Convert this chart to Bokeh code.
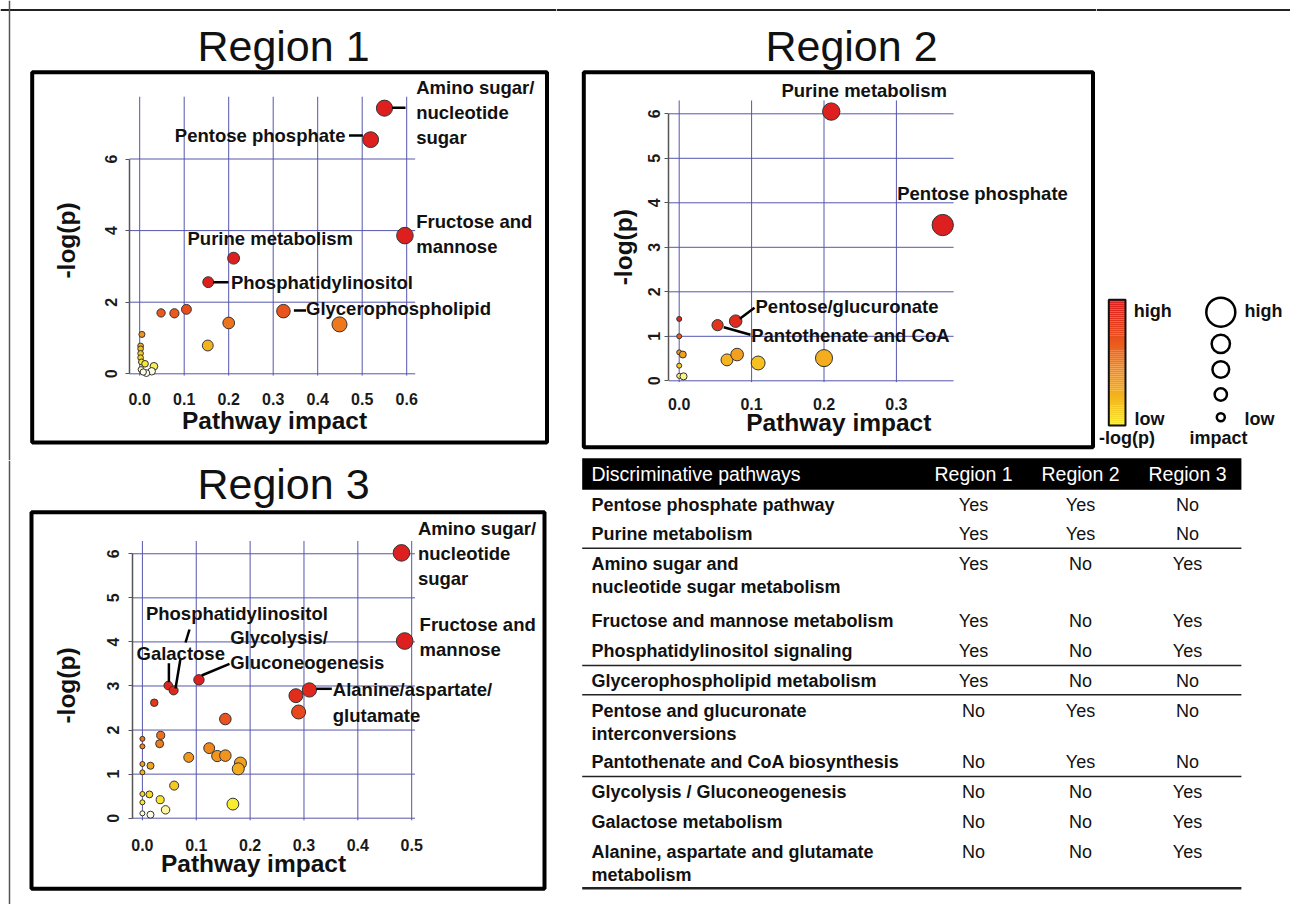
import numpy as np
from bokeh.plotting import figure
from bokeh.models import (Range1d, FixedTicker, LinearColorMapper, ColumnDataSource,
                          PrintfTickFormatter, LinearAxis)
from bokeh.layouts import row, column
from bokeh.core.properties import value
from bokeh.transform import transform
from bokeh.embed import file_html
from bokeh.resources import INLINE

FONT = "Liberation Sans"

# ---------------- data ----------------
# Region 1
r1_impact = [0.550, 0.519, 0.596, 0.211, 0.154, 0.323, 0.449, 0.200, 0.153, 0.105, 0.078, 0.048,
             0.005, 0.002, 0.002, 0.002, 0.002, 0.004, 0.012, 0.032, 0.027, 0.015, 0.003, 0.008]
r1_logp = [7.42, 6.54, 3.86, 3.23, 2.56, 1.75, 1.38, 1.42, 0.79, 1.80, 1.69, 1.70,
           1.10, 0.78, 0.70, 0.57, 0.45, 0.33, 0.28, 0.21, 0.07, 0.02, 0.12, 0.05]
r1_xticks = [0.0, 0.1, 0.2, 0.3, 0.4, 0.5, 0.6]
r1_yticks = [0, 2, 4, 6]

# Region 2
r2_impact = [0.210, 0.364, 0.078, 0.053, 0.000, 0.000, 0.000, 0.005, 0.000, 0.000, 0.006,
             0.066, 0.080, 0.109, 0.200]
r2_logp = [6.05, 3.50, 1.34, 1.25, 1.39, 1.00, 0.64, 0.59, 0.34, 0.11, 0.10,
           0.47, 0.59, 0.40, 0.51]
r2_xticks = [0.0, 0.1, 0.2, 0.3]
r2_yticks = [0, 1, 2, 3, 4, 5, 6]

# Region 3
r3_impact = [0.481, 0.487, 0.105, 0.048, 0.058, 0.310, 0.285, 0.290, 0.154, 0.022, 0.034, 0.032,
             0.000, 0.000, 0.124, 0.139, 0.154, 0.086, 0.182, 0.178, 0.000, 0.015, 0.000, 0.059,
             0.000, 0.013, 0.000, 0.033, 0.043, 0.168, 0.000, 0.015]
r3_logp = [6.02, 4.02, 3.14, 3.01, 2.90, 2.91, 2.78, 2.41, 2.25, 2.62, 1.88, 1.69,
           1.80, 1.63, 1.59, 1.41, 1.42, 1.38, 1.25, 1.12, 1.23, 1.19, 1.04, 0.74,
           0.55, 0.54, 0.36, 0.42, 0.19, 0.32, 0.11, 0.08]
r3_xticks = [0.0, 0.1, 0.2, 0.3, 0.4, 0.5]
r3_yticks = [0, 1, 2, 3, 4, 5, 6]

# Table
table_header = ["Discriminative pathways", "Region 1", "Region 2", "Region 3"]
table_pathways = ["Pentose phosphate pathway", "Purine metabolism",
                  "Amino sugar and\nnucleotide sugar metabolism",
                  "Fructose and mannose metabolism", "Phosphatidylinositol signaling",
                  "Glycerophospholipid metabolism",
                  "Pentose and glucuronate\ninterconversions",
                  "Pantothenate and CoA biosynthesis", "Glycolysis / Gluconeogenesis",
                  "Galactose metabolism", "Alanine, aspartate and glutamate\nmetabolism"]
table_r1 = ["Yes", "Yes", "Yes", "Yes", "Yes", "Yes", "No", "No", "No", "No", "No"]
table_r2 = ["Yes", "Yes", "No", "No", "No", "No", "Yes", "Yes", "No", "No", "No"]
table_r3 = ["No", "No", "Yes", "Yes", "Yes", "No", "No", "No", "Yes", "Yes", "Yes"]

# ---------------- colours ----------------
STOPS = [(0.0, "#ffffff"), (0.04, "#fffbd0"), (0.10, "#f8ec30"), (0.30, "#f5b91e"),
         (0.50, "#f08a1e"), (0.70, "#ea5a1e"), (0.88, "#e2301c"), (1.0, "#de1f1f")]


def _rgb(h):
    return [int(h[i:i + 2], 16) for i in (1, 3, 5)]


def build_palette(n=256, lo=0.0, hi=1.0):
    sp = [s[0] for s in STOPS]
    cols = np.array([_rgb(s[1]) for s in STOPS], dtype=float)
    out = []
    for t in np.linspace(lo, hi, n):
        r, g, b = (int(round(np.interp(t, sp, cols[:, k]))) for k in range(3))
        out.append("#%02x%02x%02x" % (r, g, b))
    return out


PALETTE = build_palette()
GRID_COLOR = "#5656ad"
AXIS_COLOR = "#555555"
LABEL_SIZE = "18.5px"


def frame_fig(W, H, xr, yr):
    p = figure(width=W, height=H, x_range=xr, y_range=yr, x_axis_type=None, y_axis_type=None,
               toolbar_location=None, output_backend="svg", min_border=0,
               outline_line_color=None, background_fill_color="white",
               border_fill_color="white")
    p.grid.visible = False
    return p


def region_plot(cfg):
    L, T, R, B = cfg["page"]
    x0px, xs, y0px, ys = cfg["map"]
    X = lambda px: (px - x0px) / xs
    Y = lambda py: (y0px - py) / ys
    p = frame_fig(R - L, B - T, Range1d(X(L), X(R)), Range1d(Y(B), Y(T)))

    xt, yt = cfg["xticks"], cfg["yticks"]
    ax_x = X(cfg["yaxis_px"])
    # grid lines
    p.segment(x0=xt, y0=[cfg["grid_ybot"]] * len(xt), x1=xt, y1=[cfg["grid_ytop"]] * len(xt),
              line_color=GRID_COLOR, line_width=1)
    p.segment(x0=[ax_x] * len(yt), y0=yt, x1=[cfg["grid_xmax"]] * len(yt), y1=yt,
              line_color=GRID_COLOR, line_width=1)

    # axes
    xa = LinearAxis(ticker=FixedTicker(ticks=xt), formatter=PrintfTickFormatter(format="%.1f"),
                    fixed_location=0)
    xa.axis_line_color = None
    xa.major_tick_line_color = None
    xa.minor_tick_line_color = None
    xa.major_label_standoff = cfg["xstandoff"]
    xa.major_label_text_font = FONT
    xa.major_label_text_font_style = "bold"
    xa.major_label_text_font_size = "16px"
    xa.major_label_text_color = "#1a1a1a"
    p.add_layout(xa, "below")

    ya = LinearAxis(ticker=FixedTicker(ticks=yt), formatter=PrintfTickFormatter(format="%d"),
                    fixed_location=ax_x, bounds=(yt[0], yt[-1]))
    ya.axis_line_color = AXIS_COLOR
    ya.axis_line_width = 1.5
    ya.major_tick_line_color = AXIS_COLOR
    ya.major_tick_out = 4
    ya.major_tick_in = 0
    ya.minor_tick_line_color = None
    ya.major_label_orientation = "vertical"
    ya.major_label_standoff = cfg["ystandoff"]
    ya.major_label_text_font = FONT
    ya.major_label_text_font_style = "bold"
    ya.major_label_text_font_size = "16px"
    ya.major_label_text_color = "#1a1a1a"
    p.add_layout(ya, "left")

    # points
    imp = np.array(cfg["impact"], dtype=float)
    src = ColumnDataSource(dict(impact=imp, logp=cfg["logp"],
                                size=5 + cfg["size_k"] * np.sqrt(imp)))
    mapper = LinearColorMapper(palette=PALETTE, low=0, high=cfg["cmap_high"])
    p.scatter("impact", "logp", size="size", source=src, fill_color=transform("logp", mapper),
              line_color="#333333", line_width=1)

    # leader lines
    for (a, b, c, d) in cfg["leaders"]:
        p.segment(x0=[X(a)], y0=[Y(b)], x1=[X(c)], y1=[Y(d)], line_color="black", line_width=2.5)
    # annotation labels
    for (txt, a, b, al) in cfg["labels"]:
        p.text(x=[X(a)], y=[Y(b)], text=[txt], text_font=value(FONT), text_font_style="bold",
               text_font_size=LABEL_SIZE, text_align=al, text_baseline="middle",
               text_line_height=1.2, text_color="#111111")
    # axis titles
    ax1, ay1 = cfg["xtitle"]
    p.text(x=[X(ax1)], y=[Y(ay1)], text=["Pathway impact"], text_font=value(FONT),
           text_font_style="bold", text_font_size="24.5px", text_align="center",
           text_baseline="middle", text_color="#111111")
    ax2, ay2 = cfg["ytitle"]
    p.text(x=[X(ax2)], y=[Y(ay2)], text=["-log(p)"], text_font=value(FONT),
           text_font_style="bold", text_font_size="24.5px", text_align="center",
           text_baseline="middle", angle=np.pi / 2, text_color="#111111")
    # box
    bl, bt, br, bb = cfg["box"]
    p.quad(left=[X(bl)], right=[X(br)], top=[Y(bt)], bottom=[Y(bb)], fill_color=None,
           line_color="black", line_width=4)
    # title
    tx, ty = cfg["title_pos"]
    p.text(x=[X(tx)], y=[Y(ty)], text=[cfg["title"]], text_font=value(FONT),
           text_font_size="43px", text_align="center", text_baseline="middle",
           text_color="#111111")
    # outer page border
    if cfg.get("top_border"):
        p.segment(x0=[X(L)], y0=[Y(9.5)], x1=[X(R)], y1=[Y(9.5)], line_color="#222222",
                  line_width=2)
    if cfg.get("left_border"):
        p.segment(x0=[X(9)], y0=[Y(T)], x1=[X(9)], y1=[Y(B)], line_color="#555555",
                  line_width=1.5)
    return p


SPLIT = 1096  # page x where the legend panel starts

cfg1 = dict(page=(0, 0, 556, 460), map=(139.2, 445.0, 373.3, 35.8),
            impact=r1_impact, logp=r1_logp, xticks=r1_xticks, yticks=r1_yticks,
            yaxis_px=128.8, grid_ybot=-0.05, grid_ytop=7.74, grid_xmax=0.619,
            xstandoff=13, ystandoff=8, size_k=15.0, cmap_high=2.4,
            leaders=[(391.6, 107.3, 405, 107.3), (348.5, 135, 362.3, 135),
                     (212.5, 281.7, 228, 281.7), (293.4, 310, 305.5, 310)],
            labels=[("Amino sugar/\nnucleotide\nsugar", 415.7, 111.7, "left"),
                    ("Pentose phosphate", 345, 135, "right"),
                    ("Fructose and\nmannose", 415.7, 233.5, "left"),
                    ("Purine metabolism", 187, 237.7, "left"),
                    ("Phosphatidylinositol", 230.4, 281.7, "left"),
                    ("Glycerophospholipid", 305.5, 308.3, "left")],
            xtitle=(274, 420), ytitle=(66, 240), box=(31.7, 71.7, 546.5, 442),
            title="Region 1", title_pos=(283, 45), top_border=True, left_border=True)

cfg2 = dict(page=(556, 0, SPLIT, 452), map=(678.7, 724.0, 380.3, 44.5),
            impact=r2_impact, logp=r2_logp, xticks=r2_xticks, yticks=r2_yticks,
            yaxis_px=668.3, grid_ybot=-0.03, grid_ytop=6.3, grid_xmax=0.379,
            xstandoff=11, ystandoff=5, size_k=27.0, cmap_high=1.45,
            leaders=[(739.3, 318.3, 754, 307.3), (723.3, 326.7, 750, 334.3)],
            labels=[("Purine metabolism", 863.7, 90, "center"),
                    ("Pentose phosphate", 896.7, 193.3, "left"),
                    ("Pentose/glucuronate", 755, 306, "left"),
                    ("Pantothenate and CoA", 750.7, 335, "left")],
            xtitle=(838.3, 421.7), ytitle=(623.3, 246.7), box=(583.3, 71.7, 1092.5, 446.7),
            title="Region 2", title_pos=(851, 45), top_border=True)

cfg3 = dict(page=(0, 460, 556, 904), map=(141.9, 538.6, 817.7, 44.07),
            impact=r3_impact, logp=r3_logp, xticks=r3_xticks, yticks=r3_yticks,
            yaxis_px=131.6, grid_ybot=-0.05, grid_ytop=6.29, grid_xmax=0.506,
            xstandoff=15, ystandoff=9, size_k=16.7, cmap_high=3.1,
            leaders=[(168.4, 662.7, 168.4, 681.7), (189, 629, 185, 642), (180, 658, 175, 688),
                     (201.1, 675, 229, 663.3), (315.8, 688.3, 331.3, 688.3)],
            labels=[("Amino sugar/\nnucleotide\nsugar", 417.4, 553.3, "left"),
                    ("Fructose and\nmannose", 419.1, 636.8, "left"),
                    ("Phosphatidylinositol", 145.4, 613.3, "left"),
                    ("Galactose", 136, 653.3, "left"),
                    ("Glycolysis/\nGluconeogenesis", 229.7, 649.7, "left"),
                    ("Alanine/aspartate/\nglutamate", 332.3, 702, "left")],
            xtitle=(253, 863.3), ytitle=(66.2, 685), box=(31, 511.7, 544, 888.3),
            title="Region 3", title_pos=(283, 483), left_border=True)

p1 = region_plot(cfg1)
p2 = region_plot(cfg2)
p3 = region_plot(cfg3)

# ---------------- legend ----------------
pl = frame_fig(1290 - SPLIT, 452, Range1d(SPLIT, 1290), Range1d(452, 0))
pl.segment(x0=[SPLIT], y0=[9.5], x1=[1290], y1=[9.5], line_color="#222222", line_width=2)
bar_pal = build_palette(64, 0.12, 1.0)[::-1]
bar_top, bar_bot = 299.3, 425.0
edges = np.linspace(bar_top, bar_bot, len(bar_pal) + 1)
pl.quad(left=1108.3, right=1125.0, top=edges[:-1], bottom=edges[1:], fill_color=bar_pal,
        line_color=None)
pl.quad(left=[1108.3], right=[1125.0], top=[bar_top], bottom=[bar_bot], fill_color=None,
        line_color="#111111", line_width=2)
pl.scatter(x=[1220.3] * 5, y=[311.7, 343.3, 369, 394, 416.7], size=[29, 18.3, 16.7, 12.3, 8],
           fill_color=None, line_color="black", line_width=2.5)
leg_txt = [("high", 1133.3, 310, "left"), ("low", 1134, 418.3, "left"),
           ("-log(p)", 1126.5, 437, "center"), ("high", 1244, 310, "left"),
           ("low", 1244, 418.3, "left"), ("impact", 1218, 437, "center")]
for t, x, y, a in leg_txt:
    pl.text(x=[x], y=[y], text=[t], text_font=value(FONT), text_font_style="bold",
            text_font_size="18px", text_align=a, text_baseline="middle", text_color="#111111")

# ---------------- table ----------------
pt = frame_fig(734, 452, Range1d(556, 1290), Range1d(904, 452))
TL, TR = 581.7, 1240.9
pt.quad(left=[TL], right=[TR], top=[457.7], bottom=[489.3], fill_color="black", line_color=None)
col_x = [973, 1080, 1187]
pt.text(x=[590.9], y=[473.5], text=[table_header[0]], text_font=value(FONT),
        text_font_size="19.5px", text_align="left", text_baseline="middle", text_color="white")
pt.text(x=col_x, y=[473.5] * 3, text=table_header[1:], text_font=value(FONT),
        text_font_size="19.5px", text_align="center", text_baseline="middle", text_color="white")
row_y = [504, 533.3, 563.3, 620.7, 650.7, 680, 710, 761, 791.7, 821, 851]
line_gap = 23.5
for i, name in enumerate(table_pathways):
    for j, part in enumerate(name.split("\n")):
        pt.text(x=[590.9], y=[row_y[i] + j * line_gap], text=[part], text_font=value(FONT),
                text_font_style="bold", text_font_size="18px", text_align="left",
                text_baseline="middle", text_color="#111111")
for cx, vals in zip(col_x, [table_r1, table_r2, table_r3]):
    pt.text(x=[cx] * len(vals), y=row_y, text=vals, text_font=value(FONT),
            text_font_size="18px", text_align="center", text_baseline="middle",
            text_color="#111111")
sep_y = [547.7, 665, 694.3, 776]
pt.segment(x0=[TL] * 4, y0=sep_y, x1=[TR] * 4, y1=sep_y, line_color="#222222", line_width=1.5)
pt.segment(x0=[TL], y0=[887.7], x1=[TR], y1=[887.7], line_color="#222222", line_width=2.5)

layout = row(column(p1, p3), column(row(p2, pl), pt))
open("out.html", "w").write(file_html(layout, INLINE))
